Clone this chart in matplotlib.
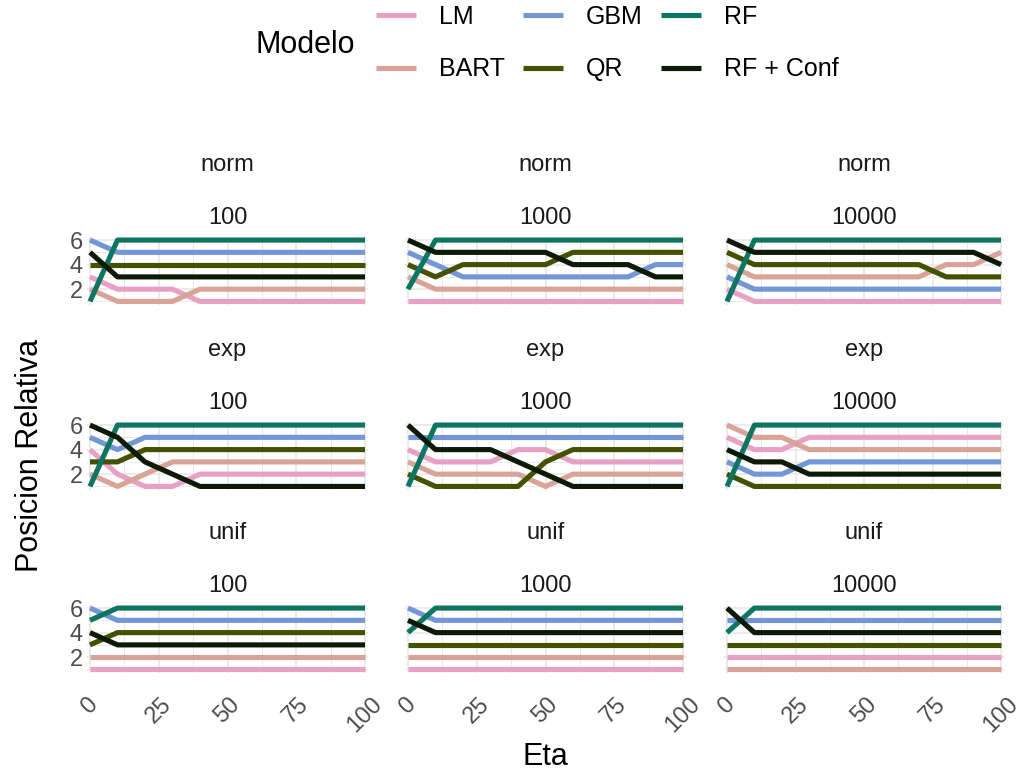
import matplotlib
matplotlib.use("Agg")
import matplotlib.pyplot as plt

plt.rcParams['font.family'] = ['Liberation Sans', 'DejaVu Sans']

# ---------------- data ----------------
eta = [0, 10, 20, 30, 40, 50, 60, 70, 80, 90, 100]
models = ["LM", "BART", "GBM", "QR", "RF", "RF + Conf"]
colors = ["#E8A0C4", "#D9A497", "#7396D7", "#435100", "#0D7560", "#0E1A08"]
dists = ["norm", "exp", "unif"]
sizes = ["100", "1000", "10000"]
x_ticks = [0, 25, 50, 75, 100]
y_ticks = [2, 4, 6]

norm_100 = {
    "LM":        [3, 2, 2, 2, 1, 1, 1, 1, 1, 1, 1],
    "BART":      [2, 1, 1, 1, 2, 2, 2, 2, 2, 2, 2],
    "GBM":       [6, 5, 5, 5, 5, 5, 5, 5, 5, 5, 5],
    "QR":        [4, 4, 4, 4, 4, 4, 4, 4, 4, 4, 4],
    "RF":        [1, 6, 6, 6, 6, 6, 6, 6, 6, 6, 6],
    "RF + Conf": [5, 3, 3, 3, 3, 3, 3, 3, 3, 3, 3],
}
norm_1000 = {
    "LM":        [1, 1, 1, 1, 1, 1, 1, 1, 1, 1, 1],
    "BART":      [3, 2, 2, 2, 2, 2, 2, 2, 2, 2, 2],
    "GBM":       [5, 4, 3, 3, 3, 3, 3, 3, 3, 4, 4],
    "QR":        [4, 3, 4, 4, 4, 4, 5, 5, 5, 5, 5],
    "RF":        [2, 6, 6, 6, 6, 6, 6, 6, 6, 6, 6],
    "RF + Conf": [6, 5, 5, 5, 5, 5, 4, 4, 4, 3, 3],
}
norm_10000 = {
    "LM":        [2, 1, 1, 1, 1, 1, 1, 1, 1, 1, 1],
    "BART":      [4, 3, 3, 3, 3, 3, 3, 3, 4, 4, 5],
    "GBM":       [3, 2, 2, 2, 2, 2, 2, 2, 2, 2, 2],
    "QR":        [5, 4, 4, 4, 4, 4, 4, 4, 3, 3, 3],
    "RF":        [1, 6, 6, 6, 6, 6, 6, 6, 6, 6, 6],
    "RF + Conf": [6, 5, 5, 5, 5, 5, 5, 5, 5, 5, 4],
}
exp_100 = {
    "LM":        [4, 2, 1, 1, 2, 2, 2, 2, 2, 2, 2],
    "BART":      [2, 1, 2, 3, 3, 3, 3, 3, 3, 3, 3],
    "GBM":       [5, 4, 5, 5, 5, 5, 5, 5, 5, 5, 5],
    "QR":        [3, 3, 4, 4, 4, 4, 4, 4, 4, 4, 4],
    "RF":        [1, 6, 6, 6, 6, 6, 6, 6, 6, 6, 6],
    "RF + Conf": [6, 5, 3, 2, 1, 1, 1, 1, 1, 1, 1],
}
exp_1000 = {
    "LM":        [4, 3, 3, 3, 4, 4, 3, 3, 3, 3, 3],
    "BART":      [3, 2, 2, 2, 2, 1, 2, 2, 2, 2, 2],
    "GBM":       [5, 5, 5, 5, 5, 5, 5, 5, 5, 5, 5],
    "QR":        [2, 1, 1, 1, 1, 3, 4, 4, 4, 4, 4],
    "RF":        [1, 6, 6, 6, 6, 6, 6, 6, 6, 6, 6],
    "RF + Conf": [6, 4, 4, 4, 3, 2, 1, 1, 1, 1, 1],
}
exp_10000 = {
    "LM":        [5, 4, 4, 5, 5, 5, 5, 5, 5, 5, 5],
    "BART":      [6, 5, 5, 4, 4, 4, 4, 4, 4, 4, 4],
    "GBM":       [3, 2, 2, 3, 3, 3, 3, 3, 3, 3, 3],
    "QR":        [2, 1, 1, 1, 1, 1, 1, 1, 1, 1, 1],
    "RF":        [1, 6, 6, 6, 6, 6, 6, 6, 6, 6, 6],
    "RF + Conf": [4, 3, 3, 2, 2, 2, 2, 2, 2, 2, 2],
}
unif_100 = {
    "LM":        [1, 1, 1, 1, 1, 1, 1, 1, 1, 1, 1],
    "BART":      [2, 2, 2, 2, 2, 2, 2, 2, 2, 2, 2],
    "GBM":       [6, 5, 5, 5, 5, 5, 5, 5, 5, 5, 5],
    "QR":        [3, 4, 4, 4, 4, 4, 4, 4, 4, 4, 4],
    "RF":        [5, 6, 6, 6, 6, 6, 6, 6, 6, 6, 6],
    "RF + Conf": [4, 3, 3, 3, 3, 3, 3, 3, 3, 3, 3],
}
unif_1000 = {
    "LM":        [1, 1, 1, 1, 1, 1, 1, 1, 1, 1, 1],
    "BART":      [2, 2, 2, 2, 2, 2, 2, 2, 2, 2, 2],
    "GBM":       [6, 5, 5, 5, 5, 5, 5, 5, 5, 5, 5],
    "QR":        [3, 3, 3, 3, 3, 3, 3, 3, 3, 3, 3],
    "RF":        [4, 6, 6, 6, 6, 6, 6, 6, 6, 6, 6],
    "RF + Conf": [5, 4, 4, 4, 4, 4, 4, 4, 4, 4, 4],
}
unif_10000 = {
    "LM":        [2, 2, 2, 2, 2, 2, 2, 2, 2, 2, 2],
    "BART":      [1, 1, 1, 1, 1, 1, 1, 1, 1, 1, 1],
    "GBM":       [5, 5, 5, 5, 5, 5, 5, 5, 5, 5, 5],
    "QR":        [3, 3, 3, 3, 3, 3, 3, 3, 3, 3, 3],
    "RF":        [4, 6, 6, 6, 6, 6, 6, 6, 6, 6, 6],
    "RF + Conf": [6, 4, 4, 4, 4, 4, 4, 4, 4, 4, 4],
}

panels = {
    ("norm", "100"): norm_100, ("norm", "1000"): norm_1000, ("norm", "10000"): norm_10000,
    ("exp", "100"): exp_100, ("exp", "1000"): exp_1000, ("exp", "10000"): exp_10000,
    ("unif", "100"): unif_100, ("unif", "1000"): unif_1000, ("unif", "10000"): unif_10000,
}

# ---------------- layout ----------------
W, H = 1021, 774
fig = plt.figure(figsize=(W / 100, H / 100), dpi=100)

col_x0 = [90, 408, 727]      # pixel of eta = 0
col_x100 = [365, 683, 1001]  # pixel of eta = 100
row_top = [237, 422, 605]
row_h = 67.5

small = 17
big = 22
lw = 3.7

handles = None
for r, d in enumerate(dists):
    for c, s in enumerate(sizes):
        x0, x1 = col_x0[c], col_x100[c]
        unit = (x1 - x0) / 100.0
        left = x0 - unit
        width = (x1 - x0) + 2 * unit
        top = row_top[r]
        ax = fig.add_axes([left / W, 1 - (top + row_h) / H, width / W, row_h / H])
        ax.set_xlim(-1, 101)
        ax.set_ylim(0.75, 6.25)
        ax.set_xticks(x_ticks)
        ax.set_xticks([12.5, 37.5, 62.5, 87.5], minor=True)
        ax.set_yticks(y_ticks)
        ax.set_yticks([1, 3, 5], minor=True)
        ax.grid(which='major', color='#E6E6E6', lw=1.1)
        ax.grid(which='minor', color='#E9E9E9', lw=0.7)
        ax.set_axisbelow(True)
        for sp in ax.spines.values():
            sp.set_visible(False)
        ax.tick_params(which='both', length=0, labelsize=small, labelcolor='#4D4D4D')
        ax.tick_params(axis='y', pad=3)
        ax.tick_params(axis='x', pad=15)
        if c != 0:
            ax.tick_params(labelleft=False)
        if r != 2:
            ax.tick_params(labelbottom=False)
        else:
            for lab in ax.get_xticklabels():
                lab.set_rotation(45)
                lab.set_ha('center')
                lab.set_va('top')
        data = panels[(d, s)]
        lines = []
        for m, col in zip(models, colors):
            ln, = ax.plot(eta, data[m], color=col, lw=lw, solid_capstyle='butt',
                          solid_joinstyle='round', label=m)
            lines.append(ln)
        if handles is None:
            handles = lines
        cx = (x0 + x1) / 2
        fig.text(cx / W, 1 - (top - 66) / H, d, ha='center', va='baseline',
                 fontsize=small, color='#1A1A1A')
        fig.text(cx / W, 1 - (top - 13) / H, s, ha='center', va='baseline',
                 fontsize=small, color='#1A1A1A')

# legend
fig.legend(handles, models, ncol=3, loc='center left',
           bbox_to_anchor=(376 / W, 1 - 43 / H), frameon=False, fontsize=18,
           handlelength=1.6, handletextpad=0.9, columnspacing=0.75,
           labelspacing=1.15, borderpad=0, borderaxespad=0)
fig.text(305 / W, 1 - 45 / H, "Modelo", ha='center', va='center', fontsize=big)

# axis titles
fig.text(545 / W, 1 - 757 / H, "Eta", ha='center', va='center', fontsize=big)
fig.text(30 / W, 1 - 455 / H, "Posicion Relativa", ha='center', va='center',
         rotation=90, fontsize=big)

fig.savefig("out.png", dpi=100)
